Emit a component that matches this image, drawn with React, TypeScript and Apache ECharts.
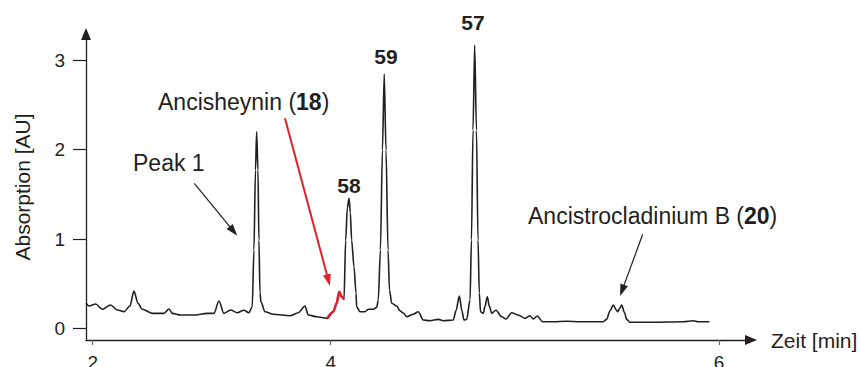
import React, { useEffect, useRef } from 'react';
import * as echarts from 'echarts';

// Chromatogram trace: [time (min), absorption (AU)]
const trace: [number, number][] = [
  [1.945, 0.284], [1.969, 0.254], [2.025, 0.276], [2.081, 0.217], [2.151, 0.265], [2.207, 0.209],
  [2.263, 0.19], [2.313, 0.254], [2.347, 0.421], [2.381, 0.284], [2.417, 0.217], [2.501, 0.172],
  [2.599, 0.172], [2.641, 0.22], [2.669, 0.172], [2.739, 0.153], [2.851, 0.153], [2.963, 0.172],
  [3.019, 0.172], [3.061, 0.309], [3.103, 0.172], [3.16, 0.209], [3.215, 0.179], [3.271, 0.206],
  [3.313, 0.179], [3.341, 0.246], [3.355, 0.879], [3.368, 1.773], [3.378, 2.201], [3.389, 1.773],
  [3.397, 0.991], [3.406, 0.4], [3.414, 0.3], [3.448, 0.19], [3.518, 0.161], [3.658, 0.145],
  [3.728, 0.179], [3.784, 0.254], [3.812, 0.153], [3.882, 0.134], [3.971, 0.116], [4.022, 0.19],
  [4.05, 0.284], [4.072, 0.413], [4.092, 0.358], [4.112, 0.328], [4.126, 0.991], [4.14, 1.35],
  [4.154, 1.457], [4.165, 1.3], [4.176, 0.991], [4.196, 0.693], [4.213, 0.399], [4.218, 0.246],
  [4.246, 0.19], [4.288, 0.19], [4.316, 0.217], [4.358, 0.217], [4.387, 0.239], [4.4, 0.321],
  [4.418, 0.879], [4.435, 1.997], [4.45, 2.846], [4.465, 1.997], [4.482, 0.879], [4.494, 0.432],
  [4.513, 0.284], [4.555, 0.254], [4.582, 0.2], [4.61, 0.175], [4.639, 0.134], [4.694, 0.161],
  [4.736, 0.19], [4.778, 0.097], [4.834, 0.089], [4.904, 0.105], [4.946, 0.089], [5.03, 0.097],
  [5.053, 0.2], [5.081, 0.365], [5.103, 0.2], [5.12, 0.097], [5.143, 0.105], [5.171, 0.321],
  [5.183, 0.991], [5.196, 2.22], [5.21, 3.17], [5.225, 2.22], [5.238, 0.991], [5.249, 0.4],
  [5.259, 0.19], [5.282, 0.172], [5.297, 0.25], [5.316, 0.358], [5.334, 0.25], [5.353, 0.172],
  [5.389, 0.206], [5.437, 0.134], [5.473, 0.108], [5.521, 0.179], [5.576, 0.153], [5.633, 0.116],
  [5.675, 0.145], [5.703, 0.108], [5.736, 0.142], [5.782, 0.078], [5.871, 0.078], [5.983, 0.083],
  [6.095, 0.078], [6.291, 0.078], [6.319, 0.105], [6.347, 0.2], [6.375, 0.265], [6.4, 0.21],
  [6.412, 0.19], [6.43, 0.23], [6.445, 0.265], [6.469, 0.18], [6.487, 0.105], [6.515, 0.072],
  [6.711, 0.072], [6.963, 0.078], [7.047, 0.089], [7.089, 0.078], [7.182, 0.078],
];

// Highlighted Ancisheynin (18) segment
const ancisheyninTrace: [number, number][] = [
  [3.971, 0.116], [4.022, 0.19], [4.05, 0.284], [4.072, 0.413], [4.092, 0.358], [4.112, 0.328],
];

// Annotation arrows: [start, end] in data units
const peak1Arrow: [number, number][] = [[2.854, 1.625], [3.183, 1.091]];
const ancisheyninArrow: [number, number][] = [[3.616, 2.351], [3.981, 0.542]];
const ancistrocladiniumArrow: [number, number][] = [[6.622, 1.055], [6.449, 0.428]];

const xTickValues = [2, 4, 7.263];
const xTickLabels = ['2', '4', '6'];
const yTickValues = [0, 1, 2, 3];

const FONT = '"Liberation Sans", Arial, Helvetica, sans-serif';
const INK = '#231f20';
const RED = '#e3202a';

export default function App() {
  const ref = useRef<HTMLDivElement>(null);

  useEffect(() => {
    if (!ref.current) return;
    const chart = echarts.init(ref.current, undefined, { renderer: 'svg' });

    const arrowPair = (pts: [number, number][], color: string, width: number) => [
      { coord: pts[0], lineStyle: { color, width, type: 'solid' } },
      { coord: pts[1], symbol: 'triangle', symbolSize: [8, 12] },
    ];

    chart.setOption({
      animation: false,
      grid: { left: 86, top: 34, right: 111, bottom: 27, containLabel: false, outerBoundsMode: 'none' },
      xAxis: {
        type: 'value',
        min: 1.944,
        max: 7.532,
        splitLine: { show: false },
        axisLine: {
          show: true,
          onZero: false,
          symbol: ['none', 'triangle'],
          symbolSize: [10, 12],
          lineStyle: { color: INK, width: 1.3 },
        },
        axisTick: { show: true, length: 5, customValues: xTickValues, lineStyle: { color: '#666', width: 1.2 } },
        axisLabel: {
          customValues: xTickValues,
          margin: 13,
          fontSize: 19,
          color: INK,
          fontFamily: FONT,
          formatter: (v: number) => {
            const i = xTickValues.findIndex((t) => Math.abs(t - v) < 1e-6);
            return i >= 0 ? xTickLabels[i] : '';
          },
        },
        name: 'Zeit [min]',
        nameLocation: 'end',
        nameGap: 20,
        nameTextStyle: { fontSize: 21, color: INK, fontFamily: FONT, align: 'left', verticalAlign: 'middle' },
      },
      yAxis: {
        type: 'value',
        min: -0.126,
        max: 3.293,
        splitLine: { show: false },
        axisLine: {
          show: true,
          onZero: false,
          symbol: ['none', 'triangle'],
          symbolSize: [10, 12],
          lineStyle: { color: INK, width: 1.3 },
        },
        axisTick: { show: true, length: 13, customValues: yTickValues, lineStyle: { color: INK, width: 1.2 } },
        axisLabel: {
          customValues: yTickValues,
          margin: 21,
          fontSize: 19,
          color: INK,
          fontFamily: FONT,
        },
        name: 'Absorption [AU]',
        nameLocation: 'middle',
        nameRotate: 90,
        nameGap: 53,
        nameTextStyle: { fontSize: 21, color: INK, fontFamily: FONT },
      },
      series: [
        {
          type: 'line',
          data: trace,
          showSymbol: false,
          symbol: 'none',
          smooth: 0.3,
          smoothMonotone: 'x',
          lineStyle: { color: INK, width: 1.6 },
          z: 2,
          markLine: {
            silent: true,
            symbol: ['none', 'triangle'],
            label: { show: false },
            emphasis: { disabled: true },
            data: [
              arrowPair(peak1Arrow, INK, 1.2),
              arrowPair(ancisheyninArrow, RED, 2),
              arrowPair(ancistrocladiniumArrow, INK, 1.2),
            ],
          },
        },
        {
          type: 'line',
          data: ancisheyninTrace,
          showSymbol: false,
          symbol: 'none',
          smooth: 0.3,
          smoothMonotone: 'x',
          lineStyle: { color: RED, width: 2.6 },
          z: 3,
        },
      ],
      graphic: [
        { type: 'text', x: 133, y: 163, style: { text: 'Peak 1', fontSize: 23, fontFamily: FONT, fill: INK, verticalAlign: 'middle' } },
        {
          type: 'text', x: 158, y: 102,
          style: {
            text: 'Ancisheynin ({b|18})', fontSize: 23, fontFamily: FONT, fill: INK, verticalAlign: 'middle',
            rich: { b: { fontSize: 23, fontFamily: FONT, fontWeight: 'bold', fill: INK } },
          },
        },
        { type: 'text', x: 349, y: 185, style: { text: '58', fontSize: 21, fontWeight: 'bold', fontFamily: FONT, fill: INK, align: 'center', verticalAlign: 'middle' } },
        { type: 'text', x: 386, y: 56, style: { text: '59', fontSize: 21, fontWeight: 'bold', fontFamily: FONT, fill: INK, align: 'center', verticalAlign: 'middle' } },
        { type: 'text', x: 473, y: 22.5, style: { text: '57', fontSize: 21, fontWeight: 'bold', fontFamily: FONT, fill: INK, align: 'center', verticalAlign: 'middle' } },
        {
          type: 'text', x: 528, y: 216,
          style: {
            text: 'Ancistrocladinium B ({b|20})', fontSize: 23, fontFamily: FONT, fill: INK, verticalAlign: 'middle',
            rich: { b: { fontSize: 23, fontFamily: FONT, fontWeight: 'bold', fill: INK } },
          },
        },
      ],
    });

    return () => chart.dispose();
  }, []);

  return <div ref={ref} style={{ position: 'fixed', left: 0, top: 0, width: 862, height: 367, background: '#fff' }} />;
}
